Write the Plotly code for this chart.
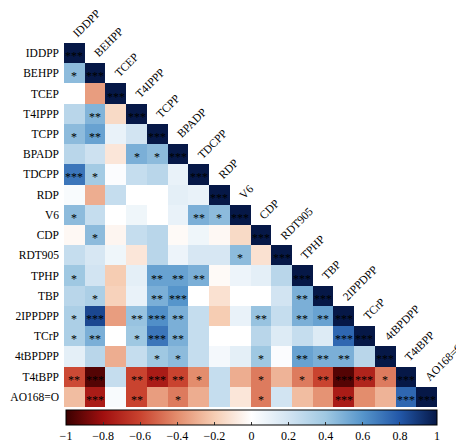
import plotly.graph_objects as go

# Variables (same order on rows and columns)
labels = ["IDDPP", "BEHPP", "TCEP", "T4IPPP", "TCPP", "BPADP", "TDCPP", "RDP",
          "V6", "CDP", "RDT905", "TPHP", "TBP", "2IPPDPP", "TCrP", "4tBPDPP",
          "T4tBPP", "AO168=O"]

# Lower-triangle correlation coefficients, one list per row
r_IDDPP = [1.0]
r_BEHPP = [0.45, 1.0]
r_TCEP = [0.0, -0.35, 1.0]
r_T4IPPP = [0.3, 0.48, -0.15, 1.0]
r_TCPP = [0.45, 0.55, 0.1, 0.2, 1.0]
r_BPADP = [0.3, 0.22, -0.1, 0.5, 0.45, 1.0]
r_TDCPP = [0.7, 0.38, 0.02, 0.25, 0.3, 0.1, 1.0]
r_RDP = [0.03, -0.3, 0.25, 0.0, 0.0, 0.12, 0.1, 1.0]
r_V6 = [0.45, 0.25, 0.0, 0.07, 0.0, 0.1, 0.5, 0.45, 1.0]
r_CDP = [-0.03, 0.45, -0.04, 0.25, 0.3, -0.02, 0.07, -0.03, -0.15, 1.0]
r_RDT905 = [0.25, 0.18, 0.07, -0.1, 0.3, 0.08, 0.18, 0.18, 0.45, -0.12, 1.0]
r_TPHP = [0.4, 0.2, -0.2, 0.12, 0.55, 0.55, 0.5, -0.02, 0.08, 0.12, 0.3, 1.0]
r_TBP = [0.3, 0.35, -0.18, 0.1, 0.5, 0.6, 0.0, -0.12, 0.0, 0.0, 0.2, 0.5, 1.0]
r_2IPPDPP = [0.35, 0.85, -0.35, 0.42, 0.62, 0.5, 0.25, -0.2, 0.1, 0.42, 0.25, 0.5, 0.55, 1.0]
r_TCrP = [0.35, 0.5, 0.0, 0.4, 0.7, 0.5, 0.25, 0.0, 0.0, 0.3, 0.15, 0.25, 0.15, 0.75, 1.0]
r_4tBPDPP = [0.12, 0.3, -0.3, 0.25, 0.4, 0.45, 0.25, 0.05, 0.12, 0.4, 0.02, 0.55, 0.5, 0.5, 0.3, 1.0]
r_T4tBPP = [-0.58, -0.95, 0.25, -0.6, -0.75, -0.6, -0.4, 0.25, -0.3, -0.45, -0.28, -0.45,
            -0.6, -0.95, -0.72, -0.45, 1.0]
r_AO168O = [-0.25, -0.75, 0.03, -0.6, -0.35, -0.45, -0.3, 0.25, -0.1, -0.45, 0.2, -0.25,
            -0.38, -0.75, -0.4, -0.28, 0.75, 1.0]

# Significance marks for the same cells
s_IDDPP = ["***"]
s_BEHPP = ["*", "***"]
s_TCEP = ["", "", "***"]
s_T4IPPP = ["", "**", "", "***"]
s_TCPP = ["*", "**", "", "", "***"]
s_BPADP = ["", "", "", "*", "*", "***"]
s_TDCPP = ["***", "*", "", "", "", "", "***"]
s_RDP = ["", "", "", "", "", "", "", "***"]
s_V6 = ["*", "", "", "", "", "", "**", "*", "***"]
s_CDP = ["", "*", "", "", "", "", "", "", "", "***"]
s_RDT905 = ["", "", "", "", "", "", "", "", "*", "", "***"]
s_TPHP = ["*", "", "", "", "**", "**", "**", "", "", "", "", "***"]
s_TBP = ["", "*", "", "", "**", "***", "", "", "", "", "", "**", "***"]
s_2IPPDPP = ["*", "***", "", "**", "***", "**", "", "", "", "**", "", "**", "**", "***"]
s_TCrP = ["*", "**", "", "*", "***", "**", "", "", "", "", "", "", "", "***", "***"]
s_4tBPDPP = ["", "", "", "", "*", "*", "", "", "", "*", "", "**", "**", "**", "", "***"]
s_T4tBPP = ["**", "***", "", "**", "***", "**", "*", "", "", "*", "", "*", "**", "***",
            "***", "*", "***"]
s_AO168O = ["", "***", "", "**", "", "*", "", "", "", "*", "", "", "", "***", "", "",
            "***", "***"]

rows = [r_IDDPP, r_BEHPP, r_TCEP, r_T4IPPP, r_TCPP, r_BPADP, r_TDCPP, r_RDP, r_V6,
        r_CDP, r_RDT905, r_TPHP, r_TBP, r_2IPPDPP, r_TCrP, r_4tBPDPP, r_T4tBPP, r_AO168O]
sig = [s_IDDPP, s_BEHPP, s_TCEP, s_T4IPPP, s_TCPP, s_BPADP, s_TDCPP, s_RDP, s_V6,
       s_CDP, s_RDT905, s_TPHP, s_TBP, s_2IPPDPP, s_TCrP, s_4tBPDPP, s_T4tBPP, s_AO168O]

n = len(labels)
z = [row + [None] * (n - len(row)) for row in rows]

colorscale = [
    [0.00, "#3a0000"],
    [0.10, "#a00f0f"],
    [0.20, "#c9432f"],
    [0.30, "#e38d6d"],
    [0.40, "#f6cdb3"],
    [0.50, "#ffffff"],
    [0.60, "#d2e4f2"],
    [0.70, "#9fc8e2"],
    [0.80, "#5695cb"],
    [0.90, "#2257a8"],
    [1.00, "#061847"],
]

serif = "Liberation Serif, Times New Roman, serif"

# page geometry (px): plot area spans 43..440 vertically, heatmap ends at 407
W, H = 456, 448
M_T, M_B = 43, 8
plot_h = H - M_T - M_B
grid_bottom = 407
cbar_top = 410
dom0 = (H - M_B - grid_bottom) / plot_h
cbar_y = (H - M_B - cbar_top) / plot_h

fig = go.Figure(go.Heatmap(
    z=z, x=labels, y=labels, zmin=-1, zmax=1,
    colorscale=colorscale, hoverongaps=False,
    colorbar=dict(
        orientation="h", x=0.5027, xanchor="center", xpad=0,
        y=cbar_y, yanchor="top", ypad=0,
        len=0.995, lenmode="fraction", thickness=15,
        outlinecolor="black", outlinewidth=1,
        tickvals=[-1, -0.8, -0.6, -0.4, -0.2, 0, 0.2, 0.4, 0.6, 0.8, 1],
        ticktext=["\u22121", "\u22120.8", "\u22120.6", "\u22120.4", "\u22120.2", "0",
                  "0.2", "0.4", "0.6", "0.8", "1"],
        ticks="inside", ticklen=3, tickcolor="#333",
        tickfont=dict(family=serif, size=12, color="black"),
    ),
))

annotations = []
# significance stars
for i in range(n):
    for j, s in enumerate(sig[i]):
        if s:
            annotations.append(dict(
                x=labels[j], y=labels[i], text=s, showarrow=False,
                font=dict(family=serif, size=12, color="black"),
                yshift=-3, xref="x", yref="y"))
# diagonal column labels
for j, lab in enumerate(labels):
    annotations.append(dict(
        x=j - 0.3, y=j - 0.5, text=lab, showarrow=False, textangle=-45,
        xanchor="left", yanchor="bottom", xref="x", yref="y", yshift=1,
        font=dict(family=serif, size=11.5, color="black")))

fig.update_layout(
    width=W, height=H,
    margin=dict(l=64, r=19, t=M_T, b=M_B, autoexpand=False),
    paper_bgcolor="white", plot_bgcolor="white",
    annotations=annotations,
    xaxis=dict(showticklabels=False, showgrid=False, zeroline=False, ticks="",
               range=[-0.5, n - 0.5], domain=[0, 1]),
    yaxis=dict(showgrid=False, zeroline=False, ticks="",
               range=[n - 0.5, -0.5], domain=[dom0, 1], anchor="x",
               tickfont=dict(family=serif, size=11.5, color="black"), ticklabelstandoff=4),
)

fig.write_html("out.html")
